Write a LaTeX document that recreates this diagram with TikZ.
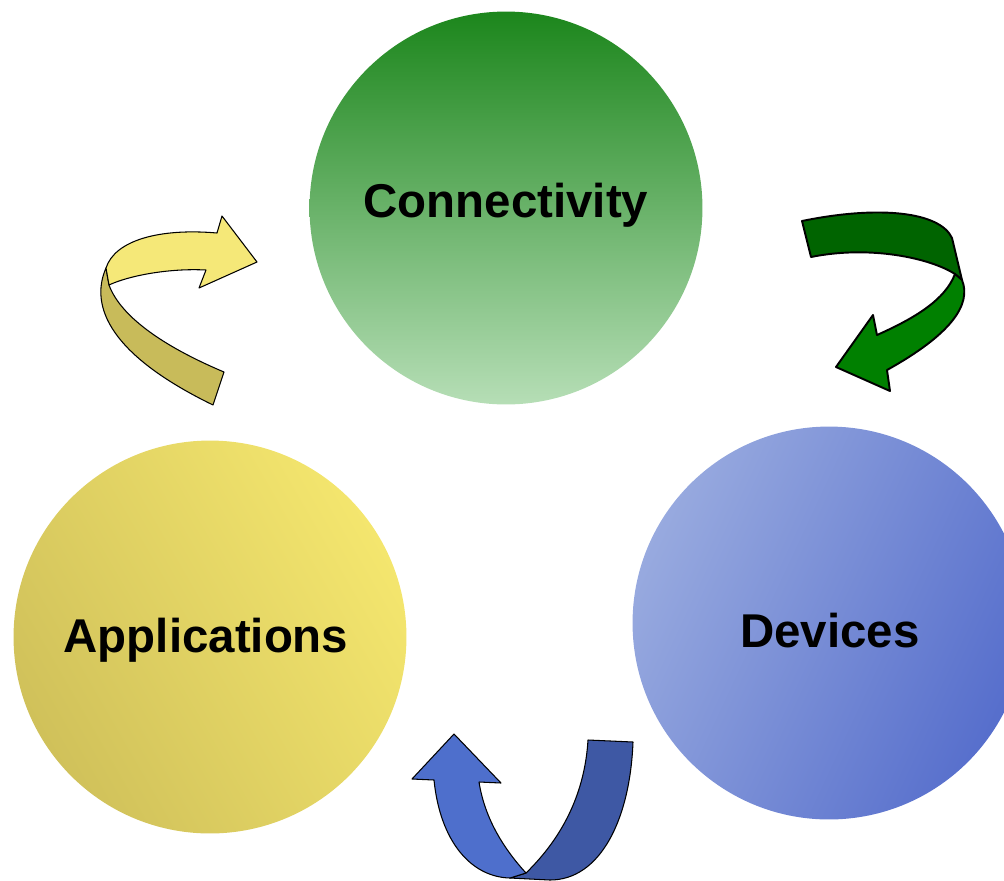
\documentclass[tikz,border=0pt]{standalone}
\usepackage{fontspec}
\setmainfont{Liberation Sans}
\definecolor{conntop}{RGB}{28,134,28}
\definecolor{connbot}{RGB}{182,222,182}
\definecolor{appleft}{RGB}{208,193,90}
\definecolor{appright}{RGB}{244,230,110}
\definecolor{devleft}{RGB}{152,170,223}
\definecolor{devright}{RGB}{86,110,204}
\definecolor{yelfront}{RGB}{245,232,120}
\definecolor{yelback}{RGB}{200,187,90}
\definecolor{grnfront}{RGB}{0,128,0}
\definecolor{grnback}{RGB}{0,100,0}
\definecolor{blufront}{RGB}{78,111,204}
\definecolor{bluback}{RGB}{62,88,164}
\tikzset{
  bubble/.style={circle, minimum size=7.86cm, inner sep=0pt},
  bubbletext/.style={font=\fontsize{27}{32}\selectfont\bfseries},
  ribbon/.style={draw=black, line width=0.6pt, line join=round}
}
\begin{document}
\begin{tikzpicture}[x=0.02cm, y=-0.02cm]
\clip (0,0) rectangle (1004,880);

% the three circles
\node[bubble, top color=conntop, bottom color=connbot] (conn) at (506,208) {};
\node[bubble, left color=appleft, right color=appright, shading angle=120] (app) at (210,637) {};
\node[bubble, left color=devleft, right color=devright, shading angle=65] (dev) at (829,623) {};
\node[bubbletext] (conntext) at (506,205) {Connectivity};
\node[bubbletext] (apptext) at (206,640) {Applications};
\node[bubbletext] (devtext) at (830,631) {Devices};

% yellow arrow: applications -> connectivity
\draw[ribbon, fill=yelback] (106,268) .. controls (92,300) and (100,350) .. (213,405)
  -- (224,372) .. controls (160,345) and (120,315) .. (109,285) -- cycle;
\draw[ribbon, fill=yelfront] (109,285) .. controls (128,276) and (168,268) .. (206,270)
  -- (199,288) -- (257,262) -- (222,216) -- (217,233)
  .. controls (160,228) and (115,240) .. (106,268) -- cycle;

% green arrow: connectivity -> devices
\draw[ribbon, line width=1.1pt, fill=grnback] (802,221) .. controls (880,205) and (940,212) .. (952,238)
  -- (962,280) -- (955,274) .. controls (930,258) and (870,245) .. (811,257) -- cycle;
\draw[ribbon, line width=1.1pt, fill=grnfront] (955,274) -- (962,280)
  .. controls (972,305) and (950,335) .. (887,370)
  -- (890,391) -- (836,367) -- (873,315) -- (877,335)
  .. controls (915,318) and (945,300) .. (955,274) -- cycle;

% blue arrow: devices -> applications
\draw[ribbon, fill=bluback] (526,873) .. controls (565,835) and (585,790) .. (588,740)
  -- (633,742) .. controls (630,820) and (600,880) .. (550,880) -- (510,878) -- cycle;
\draw[ribbon, fill=blufront] (434,780) .. controls (440,840) and (470,877) .. (510,878)
  -- (526,873) .. controls (505,850) and (485,820) .. (479,782)
  -- (501,783) -- (454,734) -- (412,779) -- cycle;
\end{tikzpicture}
\end{document}
